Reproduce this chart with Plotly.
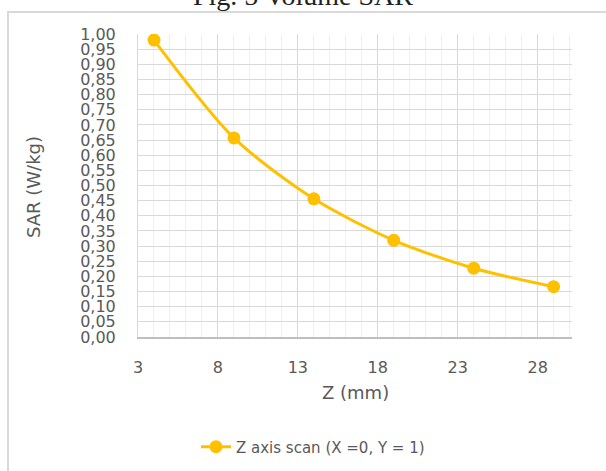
import plotly.graph_objects as go

z_mm = [4, 9, 14, 19, 24, 29]
sar = [0.98, 0.657, 0.456, 0.319, 0.227, 0.166]
series_name = "Z axis scan (X =0, Y = 1)"
title_text = "Fig. 5 Volume SAR"
x_title = "Z (mm)"
y_title = "SAR (W/kg)"

W, H = 606, 471
L, R, T, B = 138, 34, 34, 134
pw, ph = W - L - R, H - T - B

def px(x):
    return (x - L) / pw

def py(y):
    return (H - B - y) / ph

gray = "#595959"
fnt = "DejaVu Sans"

fig = go.Figure()
fig.add_trace(go.Scatter(
    x=z_mm, y=sar, mode="lines+markers", name=series_name,
    line=dict(color="#FFC000", width=3, shape="spline", smoothing=0.8),
    marker=dict(color="#FFC000", size=13),
))

fig.update_layout(
    width=W, height=H, margin=dict(l=L, r=R, t=T, b=B, autoexpand=False),
    paper_bgcolor="white", plot_bgcolor="white",
    separators=",.",
    font=dict(family=fnt, size=15, color=gray),
    showlegend=True,
    legend=dict(orientation="h", x=px(313), xanchor="center", y=py(447), yanchor="middle",
                font=dict(family=fnt, size=15, color=gray), bgcolor="rgba(0,0,0,0)"),
    xaxis=dict(range=[3, 30.15], tick0=3, dtick=5, showgrid=True, gridcolor="#d9d9d9", gridwidth=1,
               minor=dict(dtick=1, showgrid=True, gridcolor="#efefef", gridwidth=1),
               showline=True, linecolor="#bfbfbf", linewidth=1.5, zeroline=False,
               ticks="", ticklabelstandoff=15, tickfont=dict(size=16, color=gray)),
    yaxis=dict(range=[0, 1.0], tick0=0, dtick=0.05, tickformat=".2f", showgrid=True,
               gridcolor="#d9d9d9", gridwidth=1, showline=True, linecolor="#d9d9d9", linewidth=1,
               zeroline=False, ticks="", ticklabelstandoff=18, tickfont=dict(size=16, color=gray)),
    annotations=[
        dict(text=x_title, xref="paper", yref="paper", x=px(355), y=py(392), xanchor="center",
             yanchor="middle", showarrow=False, font=dict(family=fnt, size=18, color=gray)),
        dict(text=y_title, xref="paper", yref="paper", x=px(33), y=py(187), xanchor="center",
             yanchor="middle", showarrow=False, textangle=-90, font=dict(family=fnt, size=18, color=gray)),
        dict(text=title_text, xref="paper", yref="paper", x=px(303), y=py(13), xanchor="center",
             yanchor="bottom", showarrow=False, font=dict(family="Liberation Serif", size=28, color="#222222")),
    ],
    shapes=[
        dict(type="line", xref="paper", yref="paper", x0=px(7), x1=px(606), y0=py(12), y1=py(12),
             line=dict(color="#d9d9d9", width=2)),
        dict(type="line", xref="paper", yref="paper", x0=px(8), x1=px(8), y0=py(12), y1=py(471),
             line=dict(color="#d9d9d9", width=2)),
    ],
)

fig.write_html("out.html")
